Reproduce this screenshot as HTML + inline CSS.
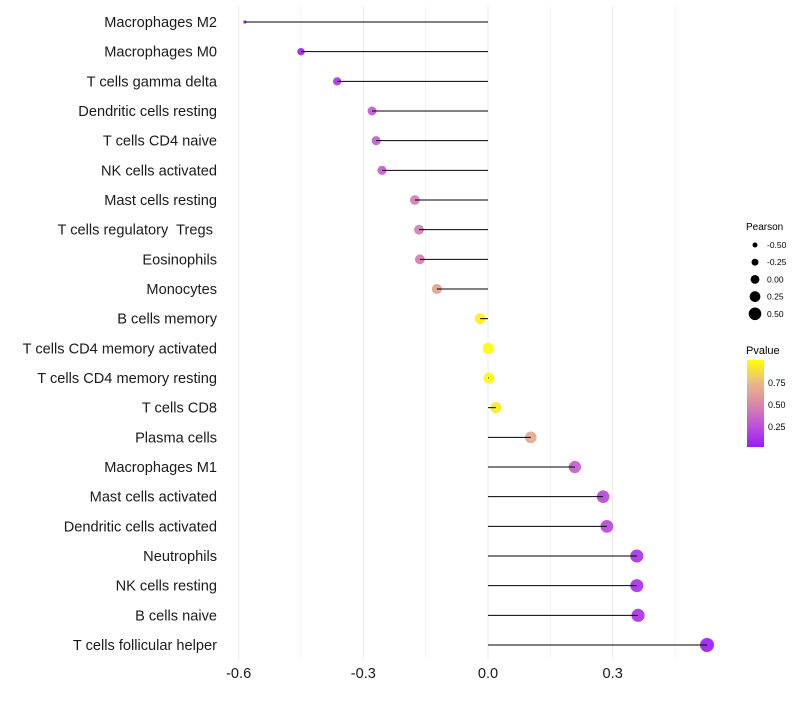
<!DOCTYPE html>
<html><head><meta charset="utf-8"><style>
body{margin:0;background:#fff;}
svg text{font-family:"Liberation Sans",Arial,sans-serif;white-space:pre;}
</style></head><body>
<svg id="chart" width="800" height="700" xmlns="http://www.w3.org/2000/svg">
<defs><linearGradient id="pg" x1="0" y1="1" x2="0" y2="0">
<stop offset="0" stop-color="#9a1cf5"/><stop offset="0.25" stop-color="#c052d8"/><stop offset="0.5" stop-color="#d88aa8"/><stop offset="0.75" stop-color="#eebb80"/><stop offset="1" stop-color="#ffff00"/></linearGradient></defs>
<g id="grid"></g>
<g id="marks"></g>
<g id="ylabels"></g>
<g id="xticks"></g>
<g id="legP">
<text x="746" y="230" font-size="10" fill="#000">Pearson</text>
</g>
<g>
<text x="746" y="354" font-size="11" fill="#000">Pvalue</text>
<rect x="747" y="360" width="17" height="87" fill="url(#pg)"/>
<text x="768" y="386" font-size="9">0.75</text>
<text x="768" y="408" font-size="9">0.50</text>
<text x="768" y="430" font-size="9">0.25</text>
</g>
</svg>
<script>
const categories=["Macrophages M2","Macrophages M0","T cells gamma delta","Dendritic cells resting","T cells CD4 naive","NK cells activated","Mast cells resting","T cells regulatory  Tregs ","Eosinophils","Monocytes","B cells memory","T cells CD4 memory activated","T cells CD4 memory resting","T cells CD8","Plasma cells","Macrophages M1","Mast cells activated","Dendritic cells activated","Neutrophils","NK cells resting","B cells naive","T cells follicular helper"];
const pearson=[-0.585,-0.45,-0.363,-0.279,-0.269,-0.255,-0.176,-0.166,-0.164,-0.123,-0.019,0.0,0.002,0.019,0.103,0.209,0.277,0.286,0.358,0.358,0.361,0.527];
const pvalue=[0.0,0.03,0.12,0.28,0.28,0.3,0.45,0.45,0.45,0.62,0.95,0.99,0.98,0.92,0.65,0.3,0.2,0.2,0.1,0.1,0.1,0.02];
const xTicks=[-0.6,-0.3,0.0,0.3];
const xTickLabels=["-0.6","-0.3","0.0","0.3"];
const legendPearson=[-0.5,-0.25,0,0.25,0.5];
const legendPearsonLabels=["-0.50","-0.25","0.00","0.25","0.50"];

const NS="http://www.w3.org/2000/svg";
const X=v=>488+v*415.6;
const Y=i=>22+i*(623/21);
const R=v=>v<-0.55?1.6:Math.sqrt(Math.max(2,30+36*v));
const RL=v=>4.4+v*3.8;
const stops=[[0,[154,28,245]],[0.25,[192,82,216]],[0.5,[216,138,168]],[0.75,[238,187,128]],[1,[255,255,0]]];
function col(p){for(let i=1;i<stops.length;i++){if(p<=stops[i][0]){const a=stops[i-1],b=stops[i];const t=(p-a[0])/(b[0]-a[0]);return 'rgb('+a[1].map((c,k)=>Math.round(c+(b[1][k]-c)*t)).join(',')+')';}}return 'rgb(255,255,0)';}
function mk(tag,attrs,parent){const e=document.createElementNS(NS,tag);for(const k in attrs)e.setAttribute(k,attrs[k]);parent.appendChild(e);return e;}
const grid=document.getElementById('grid'),marks=document.getElementById('marks'),yl=document.getElementById('ylabels'),xt=document.getElementById('xticks');
for(let v=-0.6;v<=0.46;v+=0.15){const l=mk('line',{x1:X(v),x2:X(v),y1:5,y2:660,stroke:Math.abs((v/0.3)-Math.round(v/0.3))<0.01?'#ebebeb':'#f5f5f5','stroke-width':1},grid);

}
categories.forEach((c,i)=>{
const y=Y(i);
const t=mk('text',{x:217,y:y+5,'text-anchor':'end','font-size':14.6,fill:'#1a1a1a'},yl);t.textContent=c;


const d=mk('circle',{cx:X(pearson[i]),cy:y,r:R(pearson[i]),fill:col(pvalue[i]),'fill-opacity':0.92},marks);


const s=mk('line',{x1:X(0),x2:X(pearson[i]),y1:y,y2:y,stroke:'#000','stroke-width':1},marks);


});
xTicks.forEach((v,i)=>{const t=mk('text',{x:X(v),y:678,'text-anchor':'middle','font-size':14.6,fill:'#1a1a1a'},xt);t.textContent=xTickLabels[i];

});
const lp=document.getElementById('legP');
legendPearson.forEach((v,i)=>{const y=245+i*17.2;
const c=mk('circle',{cx:755,cy:y,r:RL(v),fill:'#000'},lp);


const t=mk('text',{x:767,y:y+3,'font-size':8.5,fill:'#000'},lp);t.textContent=legendPearsonLabels[i];

});
</script>
</body></html>
